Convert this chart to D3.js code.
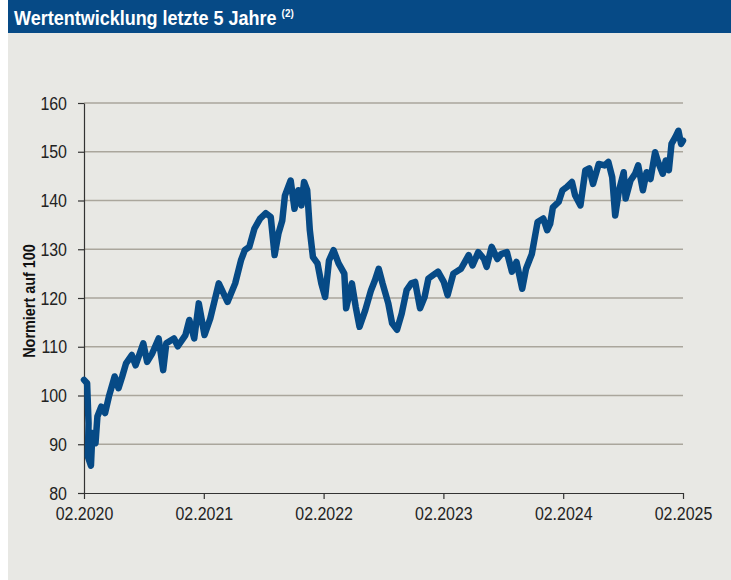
<!DOCTYPE html>
<html>
<head>
<meta charset="utf-8">
<script src="https://cdn.jsdelivr.net/npm/d3@7"></script>
<style>
  body { margin: 0; background: #fff; }
  svg { display: block; }
</style>
</head>
<body>
<div class="canvas"></div>
<script>
// data: years since 02.2020, value normalised to 100
const years = [0, 0.026, 0.038, 0.032, 0.058, 0.07, 0.096, 0.112, 0.144, 0.176, 0.208, 0.256, 0.288, 0.319, 0.351, 0.399, 0.431, 0.495, 0.527, 0.569, 0.623, 0.661, 0.687, 0.751, 0.783, 0.847, 0.879, 0.92, 0.958, 1.006, 1.054, 1.125, 1.198, 1.262, 1.31, 1.342, 1.38, 1.422, 1.47, 1.518, 1.559, 1.591, 1.623, 1.655, 1.677, 1.725, 1.757, 1.789, 1.815, 1.837, 1.863, 1.885, 1.911, 1.949, 1.981, 2.013, 2.045, 2.083, 2.125, 2.173, 2.188, 2.236, 2.268, 2.3, 2.348, 2.396, 2.428, 2.46, 2.492, 2.54, 2.572, 2.613, 2.652, 2.693, 2.732, 2.764, 2.805, 2.843, 2.875, 2.914, 2.955, 3.003, 3.035, 3.083, 3.147, 3.211, 3.243, 3.291, 3.339, 3.361, 3.403, 3.45, 3.482, 3.53, 3.572, 3.61, 3.658, 3.69, 3.738, 3.786, 3.834, 3.866, 3.891, 3.914, 3.962, 3.994, 4.032, 4.073, 4.099, 4.144, 4.185, 4.217, 4.249, 4.297, 4.345, 4.377, 4.409, 4.434, 4.466, 4.505, 4.521, 4.562, 4.601, 4.626, 4.665, 4.696, 4.729, 4.767, 4.792, 4.831, 4.856, 4.882, 4.904, 4.936, 4.962, 4.984, 5.0];
const values = [103.2, 102.5, 94.3, 87.5, 85.6, 92.3, 90.2, 95.7, 97.7, 96.4, 99.8, 103.9, 101.5, 103.9, 106.6, 108.3, 106.2, 110.7, 106.9, 108.6, 111.7, 105.2, 110.7, 111.7, 110.1, 112.4, 115.5, 111.7, 118.9, 112.4, 115.8, 123.0, 119.2, 123.0, 127.7, 129.8, 130.5, 134.2, 136.3, 137.4, 136.6, 128.8, 133.2, 135.9, 141.0, 144.1, 138.3, 142.1, 139.0, 143.8, 142.1, 133.9, 128.4, 127.1, 123.0, 120.2, 127.7, 129.8, 127.1, 125.0, 117.9, 123.0, 118.2, 114.1, 117.5, 121.6, 123.6, 126.0, 123.0, 118.9, 114.8, 113.5, 116.8, 121.6, 123.0, 123.3, 117.9, 120.2, 124.0, 124.7, 125.4, 123.3, 120.6, 125.0, 126.0, 128.8, 126.7, 129.4, 128.0, 126.4, 130.5, 128.0, 129.0, 129.4, 125.4, 127.4, 121.9, 126.0, 129.0, 135.6, 136.3, 133.9, 135.2, 138.6, 139.7, 142.1, 142.8, 143.8, 141.1, 139.0, 146.2, 146.6, 143.4, 147.5, 147.2, 147.9, 144.8, 136.9, 142.1, 145.8, 140.4, 144.1, 145.5, 147.2, 142.1, 145.8, 144.4, 149.9, 147.9, 145.5, 148.2, 146.2, 151.6, 153.0, 154.3, 151.6, 152.3];

const yTicks = [80, 90, 100, 110, 120, 130, 140, 150, 160];
const xTicks = [0, 1, 2, 3, 4, 5];
const xTickLabels = ['02.2020', '02.2021', '02.2022', '02.2023', '02.2024', '02.2025'];

const width = 731, height = 580;
const font = '"Liberation Sans", Arial, sans-serif';
// the original uses a condensed face; squeeze glyphs to roughly that width
const narrowFactor = 0.84;

const svg = d3.select('.canvas')
  .append('svg')
    .attr('width', width)
    .attr('height', height);

// grey panel + blue header bar
svg.append('rect')
  .attr('x', 8).attr('y', 0)
  .attr('width', width - 8).attr('height', height)
  .attr('fill', '#e8e8e4');

svg.append('rect')
  .attr('x', 8).attr('y', 0)
  .attr('width', width - 8).attr('height', 33)
  .attr('fill', '#064a86');

const title = svg.append('text')
  .attr('transform', 'translate(14, 25) scale(0.9, 1)')
  .attr('fill', '#fff')
  .attr('font-family', font)
  .attr('font-weight', 'bold')
  .attr('font-size', 20);
title.append('tspan').text('Wertentwicklung letzte 5 Jahre ');
title.append('tspan')
  .attr('font-size', 11)
  .attr('dy', -8)
  .text('(2)');

// plot area
const margin = {top: 103, left: 84};
const graphWidth = 683 - 84;
const graphHeight = 493 - 103;

const graph = svg.append('g')
  .attr('transform', `translate(${margin.left}, ${margin.top})`);

const x = d3.scaleLinear()
  .domain([0, 5])
  .range([0, graphWidth]);

const y = d3.scaleLinear()
  .domain([80, 160])
  .range([graphHeight, 0]);

// horizontal grid lines
graph.append('g')
  .selectAll('line')
  .data(yTicks.filter(d => d > 80))
  .enter()
  .append('line')
    .attr('x1', 0).attr('x2', graphWidth)
    .attr('y1', d => y(d)).attr('y2', d => y(d))
    .attr('stroke', '#aaa69c')
    .attr('stroke-width', 1.5);

// axes
const yAxis = d3.axisLeft(y)
  .tickValues(yTicks)
  .tickSize(6)
  .tickPadding(6)
  .tickSizeOuter(0);

const xAxis = d3.axisBottom(x)
  .tickValues(xTicks)
  .tickFormat((d, i) => xTickLabels[i])
  .tickSize(6)
  .tickPadding(8)
  .tickSizeOuter(0);

const yAxisGroup = graph.append('g').call(yAxis);
const xAxisGroup = graph.append('g')
  .attr('transform', `translate(0, ${graphHeight})`)
  .call(xAxis);

[yAxisGroup, xAxisGroup].forEach(g => {
  g.select('.domain').attr('stroke', '#333').attr('stroke-width', 1.2);
  g.selectAll('.tick line').attr('stroke', '#333').attr('stroke-width', 1.2);
  g.selectAll('text')
    .attr('fill', '#222')
    .attr('font-family', font)
    .attr('font-size', 19);
});

// narrow the tick labels around their anchor point
yAxisGroup.selectAll('.tick text')
  .attr('transform', `translate(-17, 0) scale(${narrowFactor}, 1)`)
  .attr('x', 0);
xAxisGroup.selectAll('.tick text')
  .attr('transform', `scale(${narrowFactor}, 1)`);

// axis title
svg.append('text')
  .attr('transform', 'translate(35, 301) rotate(-90) scale(0.9, 1)')
  .attr('text-anchor', 'middle')
  .attr('fill', '#111')
  .attr('font-family', font)
  .attr('font-weight', 'bold')
  .attr('font-size', 16)
  .text('Normiert auf 100');

// the performance line
const series = years.map((t, i) => ({t, v: values[i]}));

const line = d3.line()
  .x(d => x(d.t))
  .y(d => y(d.v));

graph.append('path')
  .datum(series)
  .attr('d', line)
  .attr('fill', 'none')
  .attr('stroke', '#064a86')
  .attr('stroke-width', 6.5)
  .attr('stroke-linejoin', 'round')
  .attr('stroke-linecap', 'round');
</script>
</body>
</html>
